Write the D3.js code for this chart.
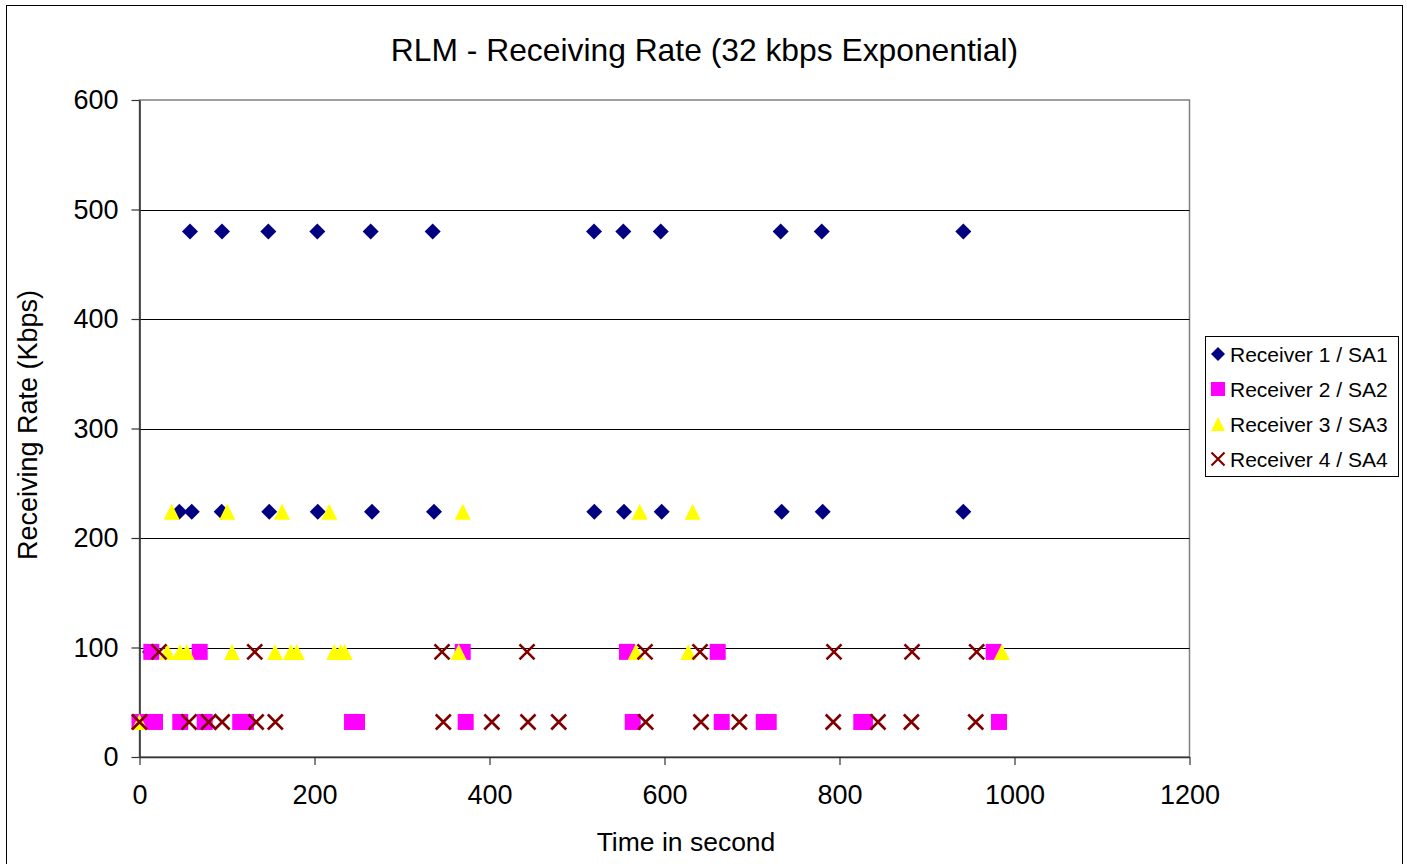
<!DOCTYPE html>
<html>
<head>
<meta charset="utf-8">
<script src="https://cdn.jsdelivr.net/npm/d3@7"></script>
<style>
  html, body { margin: 0; padding: 0; background: #fff; }
  svg { display: block; font-family: "Liberation Sans", Arial, sans-serif; }
</style>
</head>
<body>
<svg id="chart" width="1407" height="864"></svg>
<script>
// ---- Data (time in seconds, rate in Kbps) ----
const seriesNames = ["Receiver 1 / SA1", "Receiver 2 / SA2", "Receiver 3 / SA3", "Receiver 4 / SA4"];
const xTicks = [0, 200, 400, 600, 800, 1000, 1200];
const yTicks = [0, 100, 200, 300, 400, 500, 600];

// Receiver 1 / SA1
const r1Time = [0, 12, 45.5, 59.7, 93.9, 148.3, 203.7, 265.7, 336.6, 519.8, 553.7, 596.8, 733.9, 780.8, 941.5,
                57.7, 94.3, 147.2, 203.2, 264.2, 335.1, 519.4, 552.9, 595.7, 732.8, 779.7, 941.5];
const r1Rate = [32, 96, 224, 224, 224, 224, 224, 224, 224, 224, 224, 224, 224, 224, 224,
                480, 480, 480, 480, 480, 480, 480, 480, 480, 480, 480, 480];

// Receiver 2 / SA2
const r2Time = [13.5, 68.8, 369.4, 557.1, 660.8, 976.2,
                0, 17.7, 46.6, 74.5, 115.1, 121.7, 242.9, 248.6, 372.8, 563.7, 665.4, 713.4, 719.1, 824.9, 829.1, 982.3];
const r2Rate = [96, 96, 96, 96, 96, 96,
                32, 32, 32, 32, 32, 32, 32, 32, 32, 32, 32, 32, 32, 32, 32, 32];

// Receiver 3 / SA3
const r3Time = [36.8, 100.3, 162.9, 216.9, 369.4, 571.7, 632.2,
                31.8, 46.3, 53.9, 105.7, 154.9, 173.1, 179.7, 222.6, 229.9, 234.5, 364.8, 567.1, 627.2, 985.4,
                0];
const r3Rate = [224, 224, 224, 224, 224, 224, 224,
                96, 96, 96, 96, 96, 96, 96, 96, 96, 96, 96, 96, 96, 96,
                32];

// Receiver 4 / SA4
const r4Time = [22.3, 131.7, 345.7, 442.9, 577.7, 640.6, 793.7, 882.9, 956.8,
                0, 56.6, 79.1, 94.4, 133.3, 155.2, 347.2, 402.7, 444, 479.1, 578.5, 641.7, 685.5, 792.8, 844, 882.1, 955.7];
const r4Rate = [96, 96, 96, 96, 96, 96, 96, 96, 96,
                32, 32, 32, 32, 32, 32, 32, 32, 32, 32, 32, 32, 32, 32, 32, 32, 32];

// ---- Layout ----
const svg = d3.select("#chart");
const plot = { left: 139.5, right: 1189.5, top: 100, bottom: 757 };

const x = d3.scaleLinear().domain([0, 1200]).range([plot.left, plot.right]);
const y = d3.scaleLinear().domain([0, 600]).range([plot.bottom, plot.top]);

// outer chart border
svg.append("rect").attr("x", 6.5).attr("y", 5.5).attr("width", 1396).attr("height", 880)
  .attr("fill", "#fff").attr("stroke", "#000").attr("stroke-width", 1);

// plot area frame (grey top/right)
svg.append("rect").attr("x", plot.left).attr("y", plot.top)
  .attr("width", plot.right - plot.left).attr("height", plot.bottom - plot.top)
  .attr("fill", "#fff").attr("stroke", "#808080").attr("stroke-width", 1.5);

// gridlines
svg.append("g").selectAll("line").data(yTicks.filter(d => d > 0 && d < 600)).join("line")
  .attr("x1", plot.left).attr("x2", plot.right)
  .attr("y1", d => Math.round(y(d)) + 0.5).attr("y2", d => Math.round(y(d)) + 0.5)
  .attr("stroke", "#000").attr("stroke-width", 1);

// axes
const fmt = d3.format("d");
const yAxis = svg.append("g").attr("transform", `translate(${plot.left},0)`)
  .call(d3.axisLeft(y).tickValues(yTicks).tickFormat(fmt).tickSize(8).tickPadding(13).tickSizeOuter(0));
const xAxis = svg.append("g").attr("transform", `translate(0,${plot.bottom})`)
  .call(d3.axisBottom(x).tickValues(xTicks).tickFormat(fmt).tickSize(8).tickPadding(20).tickSizeOuter(0));

[yAxis, xAxis].forEach(g => {
  g.select(".domain").attr("stroke", "#333").attr("stroke-width", 1.6);
  g.selectAll(".tick line").attr("stroke", "#333").attr("stroke-width", 1.2);
  g.selectAll(".tick text").attr("fill", "#000").style("font-size", "27px")
    .style("font-family", '"Liberation Sans", Arial, sans-serif');
});

// titles
svg.append("text").attr("x", 704.5).attr("y", 61).attr("text-anchor", "middle")
  .style("font-size", "31.8px").text("RLM - Receiving Rate (32 kbps Exponential)");
svg.append("text").attr("x", 686).attr("y", 851).attr("text-anchor", "middle")
  .style("font-size", "26.5px").text("Time in second");
svg.append("text").attr("transform", "translate(37,425) rotate(-90)").attr("text-anchor", "middle")
  .style("font-size", "27px").text("Receiving Rate (Kbps)");

// marker shapes
const shapes = [
  { path: s => `M0,${-s}L${s},0L0,${s}L${-s},0Z`, fill: "#000080", stroke: "none" },
  { path: s => `M${-s},${-s}H${s}V${s}H${-s}Z`, fill: "#FF00FF", stroke: "none" },
  { path: s => `M0,${-s}L${s},${s}L${-s},${s}Z`, fill: "#FFFF00", stroke: "none" },
  { path: s => `M${-s},${-s}L${s},${s}M${s},${-s}L${-s},${s}`, fill: "none", stroke: "#800000" }
];

const series = [
  { t: r1Time, v: r1Rate, size: 8 },
  { t: r2Time, v: r2Rate, size: 8 },
  { t: r3Time, v: r3Rate, size: 8 },
  { t: r4Time, v: r4Rate, size: 7.5 }
];

series.forEach((s, i) => {
  const pts = s.t.map((t, k) => ({ t, v: s.v[k] }));
  svg.append("g").selectAll("path").data(pts).join("path")
    .attr("transform", d => `translate(${x(d.t)},${y(d.v)})`)
    .attr("d", shapes[i].path(s.size))
    .attr("fill", shapes[i].fill)
    .attr("stroke", shapes[i].stroke)
    .attr("stroke-width", 2.6);
});

// legend
const lg = svg.append("g");
lg.append("rect").attr("x", 1205.5).attr("y", 336.5).attr("width", 193).attr("height", 140)
  .attr("fill", "#fff").attr("stroke", "#000").attr("stroke-width", 1);
seriesNames.forEach((name, i) => {
  const cy = 354 + i * 35;
  lg.append("path").attr("transform", `translate(1218,${cy})`)
    .attr("d", shapes[i].path(i === 3 ? 6.5 : 7))
    .attr("fill", shapes[i].fill).attr("stroke", shapes[i].stroke).attr("stroke-width", 2.2);
  lg.append("text").attr("x", 1230).attr("y", cy + 7.5).style("font-size", "21px").text(name);
});
</script>
</body>
</html>
